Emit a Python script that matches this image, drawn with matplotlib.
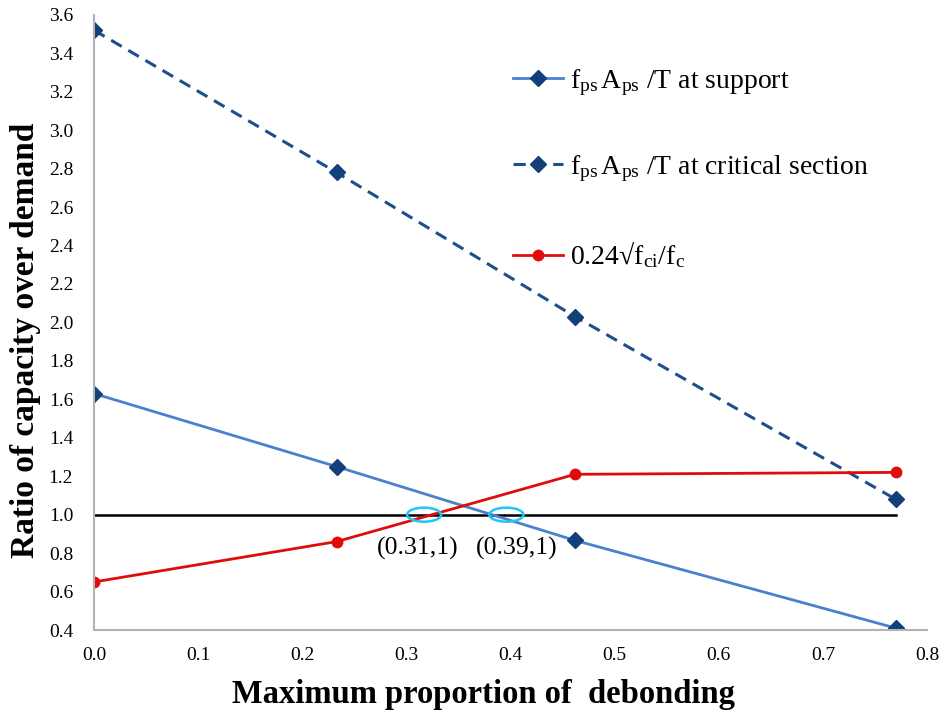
import matplotlib
matplotlib.use("Agg")
import matplotlib.pyplot as plt
from matplotlib.patches import Ellipse

plt.rcParams['font.family'] = ['Liberation Serif', 'DejaVu Serif']
plt.rcParams['mathtext.fontset'] = 'custom'
plt.rcParams['mathtext.rm'] = 'Liberation Serif'
plt.rcParams['mathtext.it'] = 'Liberation Serif'

# Debonding proportions and capacity/demand ratios
x = [0.0, 0.233, 0.462, 0.770]
support = [1.63, 1.25, 0.866, 0.41]
critical = [3.52, 2.78, 2.03, 1.08]
stress = [0.65, 0.86, 1.21, 1.22]
crossings = [(0.317, 1.0, "(0.31,1)"), (0.396, 1.0, "(0.39,1)")]
yticks = [0.4, 0.6, 0.8, 1.0, 1.2, 1.4, 1.6, 1.8, 2.0, 2.2, 2.4, 2.6, 2.8,
          3.0, 3.2, 3.4, 3.6]
xticks = [0.0, 0.1, 0.2, 0.3, 0.4, 0.5, 0.6, 0.7, 0.8]

fig = plt.figure(figsize=(9.45, 7.17), dpi=100)
ax = fig.add_axes([0.0995, 0.1213, 0.8815, 0.858])

mk = '#13407a'
ax.plot(x, support, color='#4a80cc', lw=2, marker='D', ms=8,
        mfc=mk, mec=mk,
        label=r'$\mathrm{f_{ps}\,A_{ps}}$ /T at support')
ax.plot(x, critical, color='#1f4e8c', lw=2.2, ls=(0, (4, 2.5)), marker='D', ms=8,
        mfc=mk, mec=mk,
        label=r'$\mathrm{f_{ps}\,A_{ps}}$ /T at critical section')
ax.plot(x, stress, color='#e00c0c', lw=2, marker='o', ms=7.5,
        mfc='#e00c0c', mec='#e00c0c',
        label=r'0.24√$\mathrm{f_{ci}/f_c}$')
ax.plot([x[0], x[-1]], [1.0, 1.0], color='black', lw=1.8, zorder=1)

# Intersection markers and their coordinate labels
label_x = [0.311, 0.406]
for (cx, cy, txt), tx in zip(crossings, label_x):
    ax.add_patch(Ellipse((cx, cy), 0.0327, 0.073, fill=False,
                         ec='#1ec8f0', lw=1.8, zorder=5))
    ax.text(tx, 0.825, txt, ha='center', va='center', fontsize=18.5)

ax.set_xlim(0, 0.8)
ax.set_ylim(0.4, 3.6)
ax.set_xticks(xticks)
ax.set_xticklabels([f"{v:.1f}" for v in xticks])
ax.set_yticks(yticks)
ax.set_yticklabels([f"{v:.1f}" for v in yticks])
ax.tick_params(length=0, labelsize=14)
ax.tick_params(axis='x', pad=12)
ax.tick_params(axis='y', pad=15)
for s in ('top', 'right'):
    ax.spines[s].set_visible(False)
for s in ('left', 'bottom'):
    ax.spines[s].set_color('#b3b3b3')
    ax.spines[s].set_linewidth(1.5)

ax.set_xlabel('Maximum proportion of  debonding', fontsize=23.5,
              fontweight='bold')
ax.set_ylabel('Ratio of capacity over demand', fontsize=24,
              fontweight='bold')
ax.xaxis.set_label_coords(0.4676, -0.0797)
ax.yaxis.set_label_coords(-0.064, 0.4715)

ax.legend(loc='upper left', bbox_to_anchor=(513 / 945, 1 - 67 / 717),
          bbox_transform=fig.transFigure, frameon=False, borderpad=0,
          borderaxespad=0, fontsize=20, labelspacing=2.0, handlelength=1.8,
          handletextpad=0.25)

fig.savefig('out.png', dpi=100)
